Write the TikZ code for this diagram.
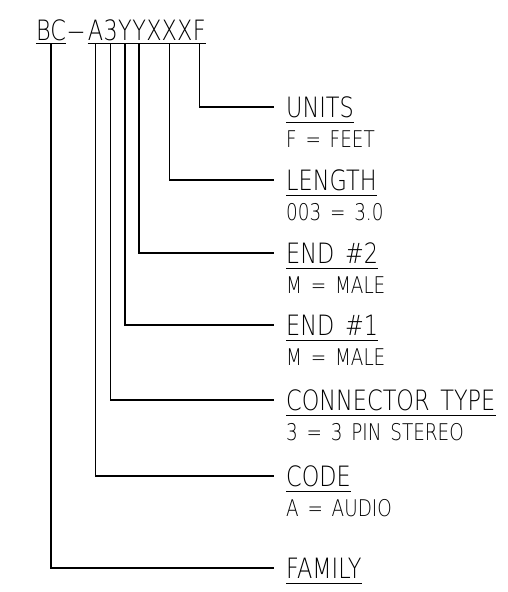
\documentclass[tikz,border=0pt]{standalone}
\usepackage{fontspec}
\usepackage{graphicx}
\usetikzlibrary{positioning}
\newfontfamily\cadfont{DejaVu Sans ExtraLight}[FakeStretch=0.8, WordSpace=1.5]

\begin{document}
\begin{tikzpicture}[
        x=1pt, y=-1pt,
        partno/.style={font=\cadfont\fontsize{28}{30}\selectfont, inner sep=0pt, text height=20.4pt, text depth=0pt},
        title/.style={partno, anchor=west},
        sub/.style={font=\cadfont\fontsize{23}{25}\selectfont, inner sep=0pt, text height=16.8pt, text depth=0pt},
        lead/.style={line width=1.5pt},
        uline/.style={line width=1.1pt}
    ]
        \useasboundingbox (0,0) rectangle (507,592);

        % Part number
        \node[partno, anchor=base] (bc) at (51,40) {BC};
        \node[partno, anchor=base] (dash) at (76,40) {\scalebox{1.6}[1]{–}};
        \node[partno, anchor=base] (a) at (95.5,40) {A};
        \node[partno, base right=0pt of a] (three) {3};
        \node[partno, base right=0pt of three] (y1) {Y};
        \node[partno, base right=0pt of y1] (y2) {Y};
        \node[partno, base right=0pt of y2] (xxx) {XXX};
        \node[partno, base right=0pt of xxx] (f) {F};

        % Fields
        \node[title] (units) at (286,107) {UNITS};
        \node[sub, below=13pt of units.south west, anchor=north west] (unitsval) {F = FEET};
        \node[title] (len) at (286,180) {LENGTH};
        \node[sub, below=13pt of len.south west, anchor=north west] (lenval) {003 = 3.0};
        \node[title] (end2) at (286,253) {END \#2};
        \node[sub, below=13pt of end2.south west, anchor=north west] (end2val) {M = MALE};
        \node[title] (end1) at (286,325) {END \#1};
        \node[sub, below=13pt of end1.south west, anchor=north west] (end1val) {M = MALE};
        \node[title] (conn) at (286,400) {CONNECTOR TYPE};
        \node[sub, below=13pt of conn.south west, anchor=north west] (connval) {3 = 3 PIN STEREO};
        \node[title] (code) at (286,476) {CODE};
        \node[sub, below=13pt of code.south west, anchor=north west] (codeval) {A = AUDIO};
        \node[title] (fam) at (286,568) {FAMILY};

        % Underlines
        \draw[uline] ([yshift=-3pt]bc.south west) -- ([yshift=-3pt]bc.south east);
        \draw[uline] ([yshift=-3pt]a.south west) -- ([yshift=-3pt]f.south east);
        \foreach \t in {units, len, end2, end1, conn, code, fam}
            \draw[uline] ([yshift=-5pt]\t.south west) -- ([yshift=-5pt]\t.south east);

        % Leads
        \foreach \c/\t in {f/units, xxx/len, y2/end2, y1/end1, three/conn, a/code, bc/fam}
            \draw[lead] ([yshift=-3pt]\c.south) |- ([xshift=-12pt]\t.west);
    \end{tikzpicture}
\end{document}
